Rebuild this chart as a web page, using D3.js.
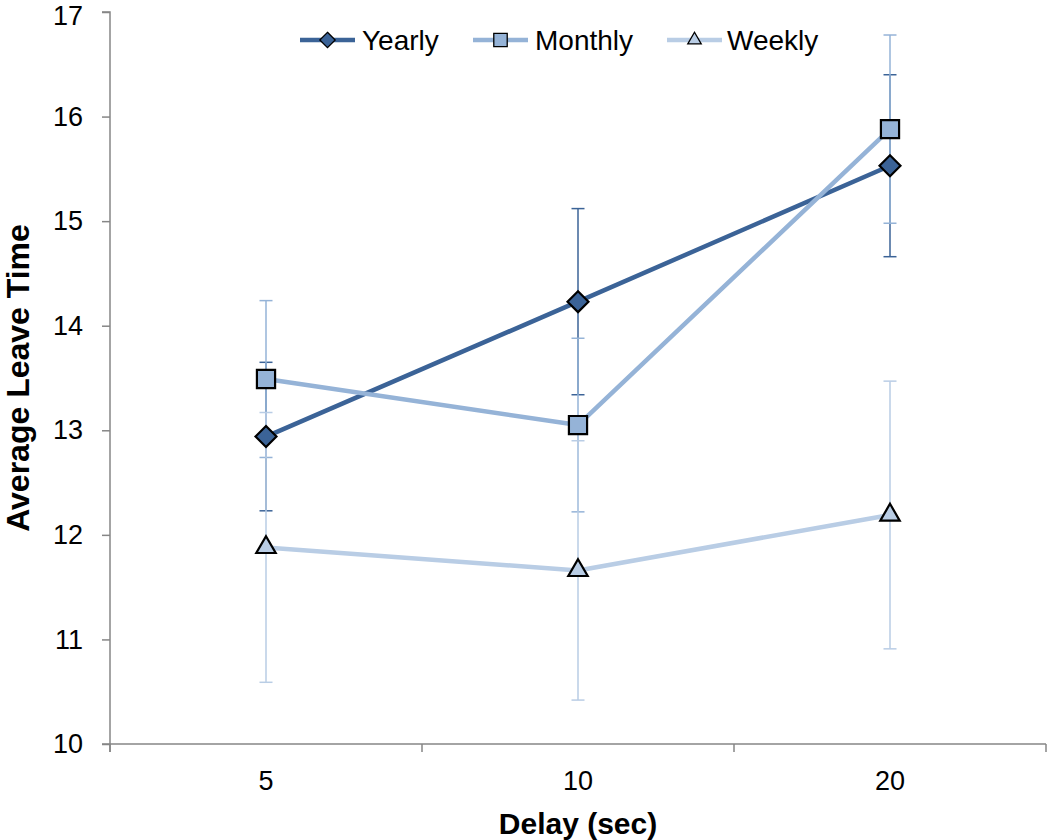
<!DOCTYPE html>
<html>
<head>
<meta charset="utf-8">
<script src="https://cdn.jsdelivr.net/npm/d3@7"></script>
<style>
  html, body { margin: 0; padding: 0; background: #fff; }
  svg { display: block; font-family: "Liberation Sans", Arial, sans-serif; }
</style>
</head>
<body>
<svg id="chart" width="1050" height="840"></svg>
<script>
// ---- data ----
const categories = ["5", "10", "20"];
const seriesNames = ["Yearly", "Monthly", "Weekly"];
const yearlyValues  = [12.94, 14.23, 15.53];
const yearlyErrors  = [0.71, 0.89, 0.87];
const monthlyValues = [13.49, 13.05, 15.88];
const monthlyErrors = [0.75, 0.83, 0.90];
const weeklyValues  = [11.88, 11.66, 12.19];
const weeklyErrors  = [1.29, 1.24, 1.28];
const yTicks = [10, 11, 12, 13, 14, 15, 16, 17];

const series = [
  { name: seriesNames[0], values: yearlyValues,  errors: yearlyErrors,  color: "#3B6397", symbol: d3.symbolDiamond2 },
  { name: seriesNames[1], values: monthlyValues, errors: monthlyErrors, color: "#95B3D7", symbol: d3.symbolSquare2 },
  { name: seriesNames[2], values: weeklyValues,  errors: weeklyErrors,  color: "#B9CDE5", symbol: d3.symbolTriangle2 }
];

const plotLeft = 110, plotRight = 1046, plotTop = 12, plotBottom = 744;
const svg = d3.select("#chart");

const x = d3.scaleBand().domain(categories).range([plotLeft, plotRight]).padding(0);
const y = d3.scaleLinear().domain([10, 17]).range([plotBottom, plotTop]);
const cx = c => x(c) + x.bandwidth() / 2;

const axisColor = "#868686";

// y axis
const yAxis = d3.axisLeft(y).tickValues(yTicks).tickSize(8).tickPadding(19).tickFormat(d3.format("d"));
const gy = svg.append("g").attr("transform", `translate(${plotLeft},0)`).call(yAxis);
gy.select(".domain").attr("stroke", axisColor).attr("stroke-width", 1.5).attr("d", `M-8,${plotTop}H0V${plotBottom + 8}`);
gy.selectAll(".tick line").attr("stroke", axisColor).attr("stroke-width", 1.5);
gy.selectAll(".tick text").attr("font-size", 27).attr("fill", "#000")
  .attr("font-family", "Liberation Sans, Arial, sans-serif");
// keep the top label inside the picture
gy.selectAll(".tick").filter(d => d === yTicks[yTicks.length - 1]).select("text").attr("dy", "0.45em");

// x axis
const xAxis = d3.axisBottom(x).tickSize(0).tickPadding(27);
const gx = svg.append("g").attr("transform", `translate(0,${plotBottom})`).call(xAxis);
gx.select(".domain").attr("stroke", axisColor).attr("stroke-width", 1.5).attr("d", `M${plotLeft - 8},0H${plotRight}`);
gx.selectAll(".tick text").attr("font-size", 27).attr("fill", "#000")
  .attr("font-family", "Liberation Sans, Arial, sans-serif");
const bounds = categories.map(c => x(c)).concat([x(categories[categories.length - 1]) + x.bandwidth()]);
gx.selectAll(".btick").data(bounds).enter().append("line")
  .attr("x1", d => d).attr("x2", d => d).attr("y1", 0).attr("y2", 8)
  .attr("stroke", axisColor).attr("stroke-width", 1.5);

// axis titles
svg.append("text").attr("x", (plotLeft + plotRight) / 2).attr("y", 834)
  .attr("text-anchor", "middle").attr("font-size", 30).attr("font-weight", "bold")
  .text("Delay (sec)");
svg.append("text").attr("transform", `translate(29,${(plotTop + plotBottom) / 2}) rotate(-90)`)
  .attr("text-anchor", "middle").attr("font-size", 32).attr("font-weight", "bold")
  .text("Average Leave Time");

// error bars
const capW = 6.5;
series.forEach(s => {
  const g = svg.append("g");
  categories.forEach((c, i) => {
    const x0 = cx(c), yh = y(s.values[i] + s.errors[i]), yl = y(s.values[i] - s.errors[i]);
    g.append("line").attr("x1", x0).attr("x2", x0).attr("y1", yh).attr("y2", yl)
      .attr("stroke", s.color).attr("stroke-width", 1.5);
    [yh, yl].forEach(yy => g.append("line").attr("x1", x0 - capW).attr("x2", x0 + capW)
      .attr("y1", yy).attr("y2", yy).attr("stroke", s.color).attr("stroke-width", 1.5));
  });
});

// lines
const line = d3.line().x((d, i) => cx(categories[i])).y(d => y(d));
series.forEach(s => {
  svg.append("path").datum(s.values).attr("d", line)
    .attr("fill", "none").attr("stroke", s.color).attr("stroke-width", 4.5)
    .attr("stroke-linejoin", "round");
});

// markers
const markerSize = { Yearly: 280, Monthly: 420, Weekly: 270 };
series.forEach(s => {
  svg.append("g").selectAll("path").data(s.values).enter().append("path")
    .attr("transform", (d, i) => `translate(${cx(categories[i])},${y(d)})`)
    .attr("d", d3.symbol().type(s.symbol).size(markerSize[s.name]))
    .attr("fill", s.color).attr("stroke", "#000").attr("stroke-width", 2.2);
});

// legend
const legendItems = [
  { x0: 300, textX: 362 },
  { x0: 473, textX: 535 },
  { x0: 667, textX: 727 }
];
const legendSize = { Yearly: 150, Monthly: 230, Weekly: 130 };
const ly = 40;
series.forEach((s, i) => {
  const li = legendItems[i];
  const g = svg.append("g");
  g.append("line").attr("x1", li.x0).attr("x2", li.x0 + 55).attr("y1", ly).attr("y2", ly)
    .attr("stroke", s.color).attr("stroke-width", 4.5);
  g.append("path").attr("transform", `translate(${li.x0 + 27.5},${ly})`)
    .attr("d", d3.symbol().type(s.symbol).size(legendSize[s.name]))
    .attr("fill", s.color).attr("stroke", "#000").attr("stroke-width", 1.3);
  g.append("text").attr("x", li.textX).attr("y", ly + 10).attr("font-size", 28)
    .attr("fill", "#000").text(s.name);
});
</script>
</body>
</html>
